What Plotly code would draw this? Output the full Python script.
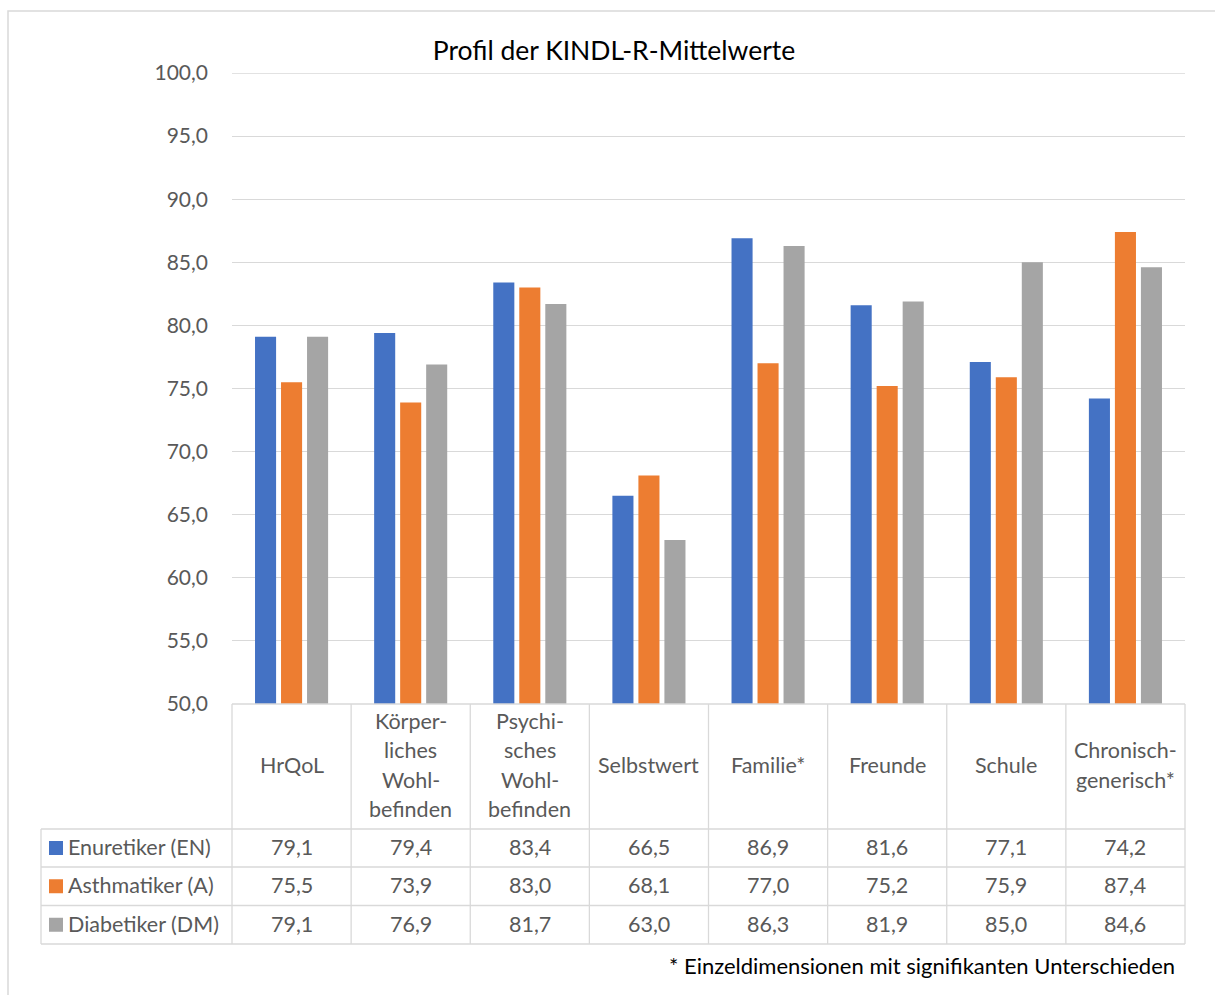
import plotly.graph_objects as go

# ---------------- data ----------------
categories = ["HrQoL", "Körperliches Wohlbefinden", "Psychisches Wohlbefinden", "Selbstwert",
              "Familie*", "Freunde", "Schule", "Chronisch-generisch*"]
header_lines = [["HrQoL"], ["Körper-", "liches", "Wohl-", "befinden"],
                ["Psychi-", "sches", "Wohl-", "befinden"], ["Selbstwert"], ["Familie*"],
                ["Freunde"], ["Schule"], ["Chronisch-", "generisch*"]]
series_names = ["Enuretiker (EN)", "Asthmatiker (A)", "Diabetiker (DM)"]
enuretiker = [79.1, 79.4, 83.4, 66.5, 86.9, 81.6, 77.1, 74.2]
asthmatiker = [75.5, 73.9, 83.0, 68.1, 77.0, 75.2, 75.9, 87.4]
diabetiker = [79.1, 76.9, 81.7, 63.0, 86.3, 81.9, 85.0, 84.6]
series_values = [enuretiker, asthmatiker, diabetiker]
colors = ["#4472C4", "#ED7D31", "#A5A5A5"]
y_ticks = [50, 55, 60, 65, 70, 75, 80, 85, 90, 95, 100]
title_text = "Profil der KINDL-R-Mittelwerte"
footnote = "* Einzeldimensionen mit signifikanten Unterschieden"

# ---------------- layout geometry (pixels) ----------------
W, H = 1215, 995
L, R, T, B = 232, 1185, 73, 704
FONT = "Lato"
GREY_TXT = "#595959"
LINE = "#D9D9D9"
TXT_SIZE = 21.5


def xp(px):
    return (px - L) / (R - L)


def yp(py):
    return (B - py) / (B - T)


fig = go.Figure()
for name, vals, col in zip(series_names, series_values, colors):
    fig.add_trace(go.Bar(x=categories, y=vals, name=name, marker_color=col,
                         marker_line_width=0, showlegend=False))

shapes = []
annotations = []

# outer chart border (only top/left visible)
shapes.append(dict(type="rect", xref="paper", yref="paper", x0=xp(8), x1=xp(1240),
                   y0=yp(11), y1=yp(1020), line=dict(color=LINE, width=1.5)))

# top gridline at the axis maximum
shapes.append(dict(type="line", xref="paper", yref="y", x0=0, x1=1, y0=y_ticks[-1],
                   y1=y_ticks[-1], line=dict(color=LINE, width=1.3), layer="below"))

# table geometry
n = len(categories)
row_tops = [829, 867, 905.5, 944]
left_px = 41
# horizontal lines
shapes.append(dict(type="line", xref="paper", yref="paper", x0=0, x1=1, y0=yp(B), y1=yp(B),
                   line=dict(color=LINE, width=1.3)))
for ry in row_tops:
    shapes.append(dict(type="line", xref="paper", yref="paper", x0=xp(left_px), x1=1,
                       y0=yp(ry), y1=yp(ry), line=dict(color=LINE, width=1.3)))
# vertical lines
for i in range(n + 1):
    shapes.append(dict(type="line", xref="paper", yref="paper", x0=i / n, x1=i / n,
                       y0=yp(B), y1=yp(row_tops[-1]), line=dict(color=LINE, width=1.3)))
shapes.append(dict(type="line", xref="paper", yref="paper", x0=xp(left_px), x1=xp(left_px),
                   y0=yp(row_tops[0]), y1=yp(row_tops[-1]), line=dict(color=LINE, width=1.3)))

# header text
head_center = 765
spacing = 29.3
for cat, lines in zip(categories, header_lines):
    k = len(lines)
    for j, ln in enumerate(lines):
        cy = head_center + (j - (k - 1) / 2) * spacing
        annotations.append(dict(x=cat, xref="x", y=yp(cy), yref="paper", text=ln,
                                showarrow=False, xanchor="center", yanchor="middle",
                                font=dict(family=FONT, size=TXT_SIZE, color=GREY_TXT)))

# rows: legend keys, labels and values
for r, (name, vals, col) in enumerate(zip(series_names, series_values, colors)):
    cy = (row_tops[r] + row_tops[r + 1]) / 2 - 1
    shapes.append(dict(type="rect", xref="paper", yref="paper", x0=xp(49), x1=xp(63),
                       y0=yp(cy + 8), y1=yp(cy - 6), fillcolor=col, line=dict(width=0)))
    annotations.append(dict(x=xp(66), xref="paper", y=yp(cy), yref="paper", text=name,
                            showarrow=False, xanchor="left", yanchor="middle",
                            font=dict(family=FONT, size=TXT_SIZE, color=GREY_TXT)))
    for cat, v in zip(categories, vals):
        annotations.append(dict(x=cat, xref="x", y=yp(cy), yref="paper",
                                text=f"{v:.1f}".replace(".", ","),
                                showarrow=False, xanchor="center", yanchor="middle",
                                font=dict(family=FONT, size=TXT_SIZE, color=GREY_TXT)))

# footnote
annotations.append(dict(x=xp(1177), xref="paper", y=yp(965), yref="paper", text=footnote,
                        showarrow=False, xanchor="right", yanchor="middle",
                        font=dict(family=FONT, size=22, color="#000000")))

fig.update_layout(
    width=W, height=H,
    margin=dict(l=L, r=W - R, t=T, b=H - B, pad=0),
    paper_bgcolor="white", plot_bgcolor="white",
    separators=",.",
    barmode="group", bargap=0.345, bargroupgap=0.19,
    title=dict(text=title_text, x=614 / W, xref="container", xanchor="center",
               y=1 - 51 / H, yref="container", yanchor="middle",
               font=dict(family=FONT, size=26.5, color="#000000")),
    xaxis=dict(showticklabels=False, showgrid=False, zeroline=False, showline=False,
               ticks="", range=[-0.5, n - 0.5]),
    yaxis=dict(range=[50, 100], tickvals=y_ticks, tickformat=".1f", showgrid=True,
               gridcolor=LINE, gridwidth=1.3, zeroline=False, showline=False, ticks="",
               ticklabelstandoff=23,
               tickfont=dict(family=FONT, size=21, color=GREY_TXT)),
    shapes=shapes, annotations=annotations,
    font=dict(family=FONT),
)

fig.write_html("out.html", config={"displayModeBar": False},
               post_script="document.body.style.margin='0';")
